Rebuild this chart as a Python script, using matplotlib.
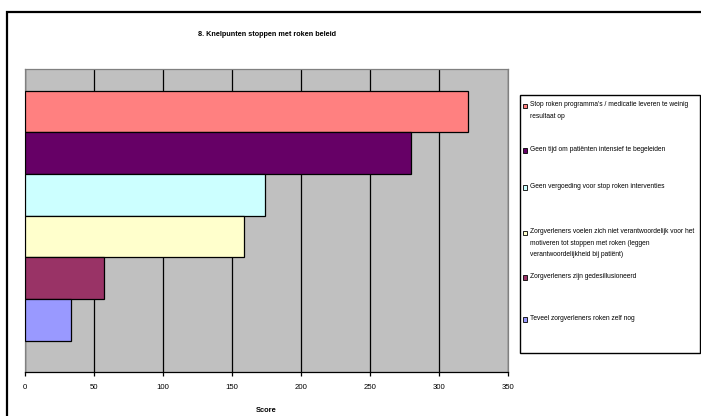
import matplotlib
matplotlib.use("Agg")
import matplotlib.pyplot as plt
from matplotlib.patches import Rectangle

plt.rcParams['font.family'] = ['Liberation Sans', 'DejaVu Sans']

title = "8. Knelpunten stoppen met roken beleid"
labels = [
    "Stop roken programma's / medicatie leveren te weinig\nresultaat op",
    "Geen tijd om patiënten intensief te begeleiden",
    "Geen vergoeding voor stop roken interventies",
    "Zorgverleners voelen zich niet verantwoordelijk voor het\nmotiveren tot stoppen met roken (leggen\nverantwoordelijkheid bij patiënt)",
    "Zorgverleners zijn gedesillusioneerd",
    "Teveel zorgverleners roken zelf nog",
]
scores = [321, 280, 174, 159, 57, 33]
colors = ["#FF8080", "#660066", "#CCFFFF", "#FFFFCC", "#993366", "#9999FF"]
xticks = [0, 50, 100, 150, 200, 250, 300, 350]

W, H = 701, 416
fig = plt.figure(figsize=(W / 100, H / 100), dpi=100)

# outer chart frame (right and bottom run off the image)
fig.patches.append(Rectangle((6.7 / W, -0.1), 1.2, (H - 12.3) / H + 0.1,
                             transform=fig.transFigure, fill=False,
                             edgecolor="black", linewidth=1.6, zorder=0))

ax = fig.add_axes([25 / W, (H - 371.7) / H, (508 - 25) / W, (371.7 - 69) / H])
ax.set_facecolor("#C0C0C0")

pos = list(range(len(scores)))
ax.barh(pos, scores, height=1.0, color=colors, edgecolor="black",
        linewidth=0.9, zorder=3)

ax.set_xlim(0, 350)
ax.set_ylim(6.244, -1.02)
ax.set_xticks(xticks)
ax.set_yticks([])
ax.xaxis.grid(True, color="black", linewidth=0.9, zorder=0)
ax.set_axisbelow(True)
ax.tick_params(axis="x", direction="out", length=3, width=0.9, pad=6,
               labelsize=5.6, colors="black")
for side in ["top", "right", "left"]:
    ax.spines[side].set_color("#808080")
    ax.spines[side].set_linewidth(0.9)
ax.spines["bottom"].set_color("black")
ax.spines["bottom"].set_linewidth(0.9)

fig.text(266 / W, (H - 410.5) / H, "Score", ha="center", va="center",
         fontsize=5.4, fontweight="bold")
fig.text(266.5 / W, (H - 34.7) / H, title, ha="center", va="center",
         fontsize=5.2, fontweight="bold")

# legend box
lx0, lx1, ly0, ly1 = 520, 700, 95, 352.7
fig.patches.append(Rectangle((lx0 / W, (H - ly1) / H), (lx1 - lx0) / W,
                             (ly1 - ly0) / H, transform=fig.transFigure,
                             facecolor="white", edgecolor="black",
                             linewidth=1.0, zorder=1))
entry_y = [105.7, 150, 187.3, 232.7, 277.3, 319]
for lab, col, yy in zip(labels, colors, entry_y):
    fig.patches.append(Rectangle((522.5 / W, (H - yy - 2.5) / H), 4.5 / W, 4.5 / H,
                                 transform=fig.transFigure, facecolor=col,
                                 edgecolor="black", linewidth=0.6, zorder=2))
    fig.text(529.5 / W, (H - yy + 4.3) / H, lab, ha="left", va="top",
             fontsize=4.75, linespacing=1.9, zorder=3)

fig.savefig("out.png", dpi=100)
